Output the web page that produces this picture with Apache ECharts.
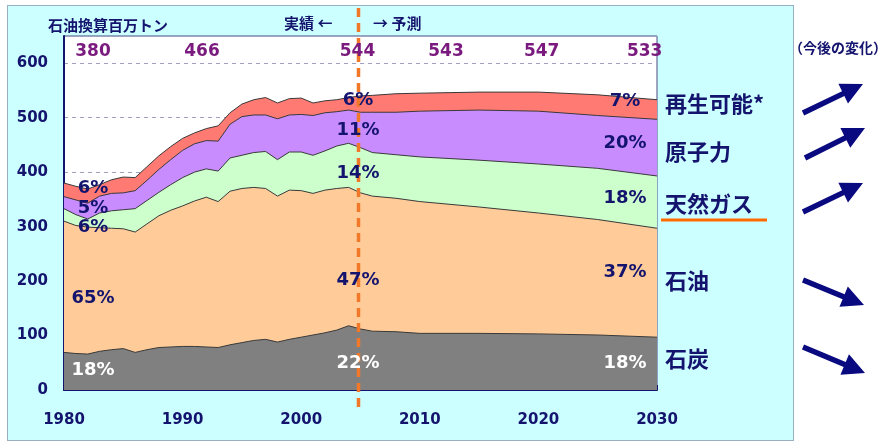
<!DOCTYPE html>
<html><head><meta charset="utf-8">
<script src="https://cdn.jsdelivr.net/npm/echarts@6/dist/echarts.min.js"></script>
<style>
html,body{margin:0;padding:0;background:#fff;width:888px;height:444px;overflow:hidden;}
#panel{position:absolute;left:7px;top:5px;width:785px;height:434px;background:#CCFFFF;border:1px solid #9AAFC0;}
#c{position:absolute;left:0;top:0;width:888px;height:444px;}
</style></head>
<body><div id="panel"></div><div id="c"></div>
<script>
const years = [1980,1981,1982,1983,1984,1985,1986,1987,1988,1989,1990,1991,1992,1993,1994,1995,1996,1997,1998,1999,2000,2001,2002,2003,2004,2005,2006,2008,2010,2015,2020,2025,2030];
const coal    = [69,67,66,71,74,76,69,74,78,79, 80,80,79,78,83,87,91,93,88,93, 97,101,105,110,118,112,108, 107,104,104,103,101,97];
const oil     = [241,235,233,227,223,220,221,231,242,251, 258,267,275,268,282,283,281,277,268,274, 269,260,262,260,254,250,248, 245,242,232,222,212,200];
const gas     = [23,20,15,27,32,35,43,43,43,47, 52,53,52,56,61,61,64,68,67,70, 71,70,72,78,81,83,80, 80,82,86,90,94,96];
const nuclear = [22,27,29,31,32,31,33,37,42,46, 50,52,52,55,62,71,69,67,75,68, 69,73,70,63,61,65,74, 78,84,92,97,97,104];
const renew   = [25,25,26,21,25,29,24,25,25,24, 22,20,22,28,21,23,28,32,29,30, 30,23,22,22,23,30,31, 34,33,33,35,38,36];
const seriesNames = ['石炭','石油','天然ガス','原子力','再生可能*'];
const totalLabels = ['380','466','544','543','547','533'];
const pct1980 = ['18%','65%','6%','5%','6%'];
const pct2005 = ['22%','47%','14%','11%','6%'];
const pct2030 = ['18%','37%','18%','20%','7%'];
const yTicks = [0,100,200,300,400,500,600];

const NAVY = '#14146E';
const colors = ['#808080','#FFCC99','#CCFFCC','#C88CFF','#FF7A72'];
const dataSets = [coal, oil, gas, nuclear, renew];
const NUM = 'DejaVu Sans, Verdana, sans-serif';
const CJK = '"Noto Sans CJK JP", sans-serif';

// cumulative stack tops (bottom -> top)
const tops = [];
dataSets.forEach((arr,i)=>{
  tops.push(arr.map((v,k)=> v + (i>0 ? tops[i-1][k] : 0)));
});

const chart = echarts.init(document.getElementById('c'), null, {renderer:'canvas'});

function txt(text, x, y, size, color, family, weight, align) {
  return {type:'text', z:100, silent:true,
    style:{text:text, x:x, y:y, fill:color, fontSize:size, fontFamily:family, fontWeight:weight||'bold',
      align:align||'center', verticalAlign:'middle', textAlign:align||'center', textVerticalAlign:'middle'}};
}
function arrow(x1,y1,x2,y2){
  const dx=x2-x1, dy=y2-y1, L=Math.hypot(dx,dy), ux=dx/L, uy=dy/L, px=-uy, py=ux;
  const hl=22, hw=11, sw=2.7;
  const bx=x2-ux*hl, by=y2-uy*hl;
  return {type:'polygon', z:100, silent:true, shape:{points:[
    [x1+px*sw,y1+py*sw],[bx+px*sw,by+py*sw],[bx+px*hw,by+py*hw],[x2,y2],
    [bx-px*hw,by-py*hw],[bx-px*sw,by-py*sw],[x1-px*sw,y1-py*sw]]},
    style:{fill:'#0A0A80'}};
}

// draw top layer first; lower layers painted over it
const series = [];
for (let i = dataSets.length-1; i >= 0; i--) {
  series.push({
    name:seriesNames[i], type:'line', symbol:'none', smooth:false,
    data: years.map((y,k)=>[y, tops[i][k]]),
    lineStyle:{color:'#3A3A3A', width:1},
    areaStyle:{color:colors[i], opacity:1, origin:'start'},
    emphasis:{disabled:true}, z: 2 + (dataSets.length - i)
  });
}

const graphics = [];
graphics.push(txt('石油換算百万トン', 48, 25, 15, NAVY, CJK, 'bold', 'left'));
graphics.push(txt('実績 ←', 284, 23, 15, NAVY, CJK, 'bold', 'left'));
graphics.push(txt('→ 予測', 373, 23, 15, NAVY, CJK, 'bold', 'left'));
const totX = [93,202,357.5,446,541.7,644.7];
totalLabels.forEach((t,i)=>graphics.push(txt(t, totX[i], 52, 17, '#7A1A7E', NUM, 'bold')));
const pctY1980 = [370,298,227,208,188];
const pctY2005 = [363,280,173,130,100];
const pctY2030 = [363,272,198,143,101];
pct1980.forEach((t,i)=>graphics.push(txt(t, 93, pctY1980[i], 18, i===0?'#FFFFFF':NAVY, NUM)));
pct2005.forEach((t,i)=>graphics.push(txt(t, 358, pctY2005[i], 18, i===0?'#FFFFFF':NAVY, NUM)));
pct2030.forEach((t,i)=>graphics.push(txt(t, 625, pctY2030[i], 18, i===0?'#FFFFFF':NAVY, NUM)));
const rightY = [359,281,204,152,104];
seriesNames.forEach((n,i)=>graphics.push(txt(n, 665, rightY[i], 22, NAVY, CJK, 'bold', 'left')));
graphics.push({type:'line', z:100, silent:true, shape:{x1:661,y1:220,x2:767,y2:220}, style:{stroke:'#FF6A00', lineWidth:3}});
graphics.push(txt('（今後の変化）', 789, 48, 14, NAVY, CJK, 'bold', 'left'));
graphics.push(arrow(803,113,863,84));
graphics.push(arrow(805,158,865,128));
graphics.push(arrow(803,212,863,183));
graphics.push(arrow(803,280,864,305));
graphics.push(arrow(803,347,865,373));
graphics.push({type:'line', z:99, silent:true, shape:{x1:358.5,y1:8,x2:358.5,y2:410},
  style:{stroke:'#F07828', lineWidth:3.5, lineDash:[9,6]}});

chart.setOption({
  animation:false,
  backgroundColor:'transparent',
  grid:{left:64, right:231, top:36, bottom:54, show:true, backgroundColor:'#FFFFFF', borderColor:'#4A4A80', borderWidth:1},
  xAxis:{type:'value', min:1980, max:2030, interval:5,
    axisLine:{show:true, onZero:false, lineStyle:{color:NAVY, width:2}},
    axisTick:{show:true, inside:true, length:5, lineStyle:{color:NAVY, width:1}},
    splitLine:{show:false},
    axisLabel:{margin:23, color:NAVY, fontSize:15, fontWeight:'bold', fontFamily:NUM,
      formatter:v=> (v%10===0 ? String(v) : '')}
  },
  yAxis:{type:'value', min:0, max:650, interval:100,
    axisLine:{show:true, lineStyle:{color:NAVY, width:2}},
    axisTick:{show:false},
    splitLine:{show:true, lineStyle:{color:'#A0A0C0', type:[4,4], width:1}},
    axisLabel:{margin:16, color:NAVY, fontSize:15, fontWeight:'bold', fontFamily:NUM,
      formatter:v=> (yTicks.indexOf(v)>=0 ? String(v) : '')}
  },
  series:series,
  graphic:graphics
});
</script></body></html>
